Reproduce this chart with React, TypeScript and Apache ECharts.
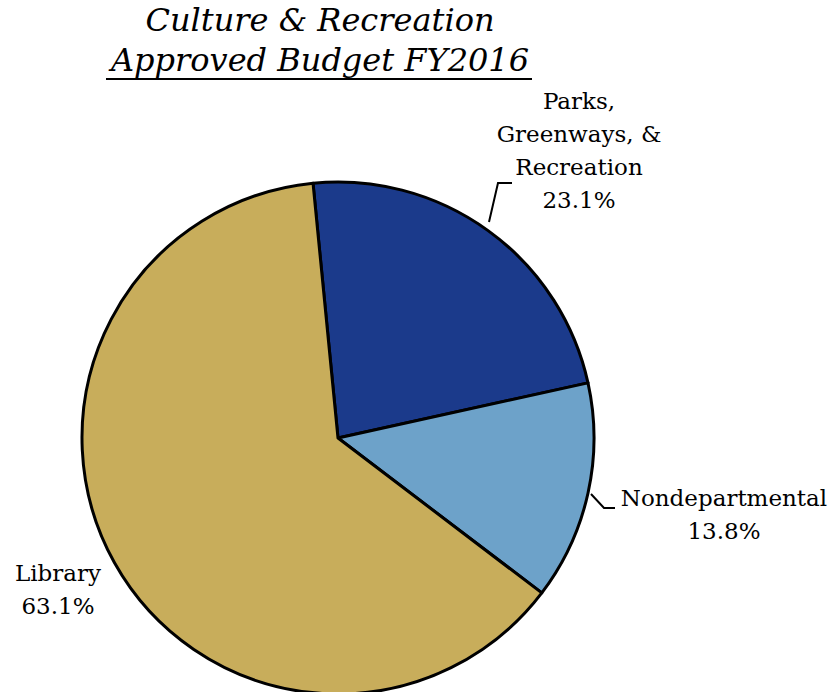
import React, { useEffect, useRef } from "react";
import * as echarts from "echarts";

const categories = ["Parks,\nGreenways, &\nRecreation", "Nondepartmental", "Library"];
const values = [23.1, 13.8, 63.1];
const colors = ["#1B3A8B", "#6DA2C9", "#C8AD5B"];
const titleLines = ["Culture & Recreation", "Approved Budget FY2016"];

// label placements (center x, center y) and leader lines
const labelPos = [
  { x: 579, y: 150, line: [[489, 222], [498, 183], [512, 183]] },
  { x: 724, y: 514, line: [[591, 494], [604, 508], [615, 508]] },
  { x: 58, y: 589, line: null as any },
];

export default function App() {
  const ref = useRef<HTMLDivElement>(null);
  useEffect(() => {
    const chart = echarts.init(ref.current!, undefined, { renderer: "svg" });
    chart.setOption({
      animation: false,
      backgroundColor: "#ffffff",
      graphic: [
        {
          type: "text",
          x: 320,
          y: 4,
          style: {
            text: titleLines[0],
            font: "italic 32px 'DejaVu Serif', serif",
            fill: "#000",
            align: "center",
            verticalAlign: "top",
          },
        },
        {
          type: "text",
          x: 320,
          y: 44,
          style: {
            text: titleLines[1],
            font: "italic 32px 'DejaVu Serif', serif",
            fill: "#000",
            align: "center",
            verticalAlign: "top",
          },
        },
        {
          type: "line",
          shape: { x1: 106, y1: 79, x2: 532, y2: 79 },
          style: { stroke: "#000", lineWidth: 2 },
        },
      ],
      series: [
        {
          type: "pie",
          center: [338, 438],
          radius: 256,
          startAngle: 95.6,
          clockwise: true,
          percentPrecision: 1,
          itemStyle: { borderColor: "#000", borderWidth: 3 },
          label: {
            show: true,
            formatter: "{b}\n{d}%",
            fontFamily: "DejaVu Serif",
            fontSize: 23,
            lineHeight: 33,
            color: "#000",
            align: "center",
            overflow: "none",
          },
          labelLine: { show: true, lineStyle: { color: "#000", width: 2 } },
          labelLayout: (params: any) => {
            const p = labelPos[params.dataIndex];
            const out: any = { x: p.x, y: p.y, align: "center", verticalAlign: "middle" };
            if (p.line) out.labelLinePoints = p.line;
            return out;
          },
          data: categories.map((name, i) => ({
            name,
            value: values[i],
            itemStyle: { color: colors[i] },
            labelLine: { show: labelPos[i].line !== null },
          })),
        },
      ],
    });
    return () => chart.dispose();
  }, []);
  return (
    <div
      ref={ref}
      style={{ position: "fixed", left: 0, top: 0, width: 833, height: 692 }}
    />
  );
}
